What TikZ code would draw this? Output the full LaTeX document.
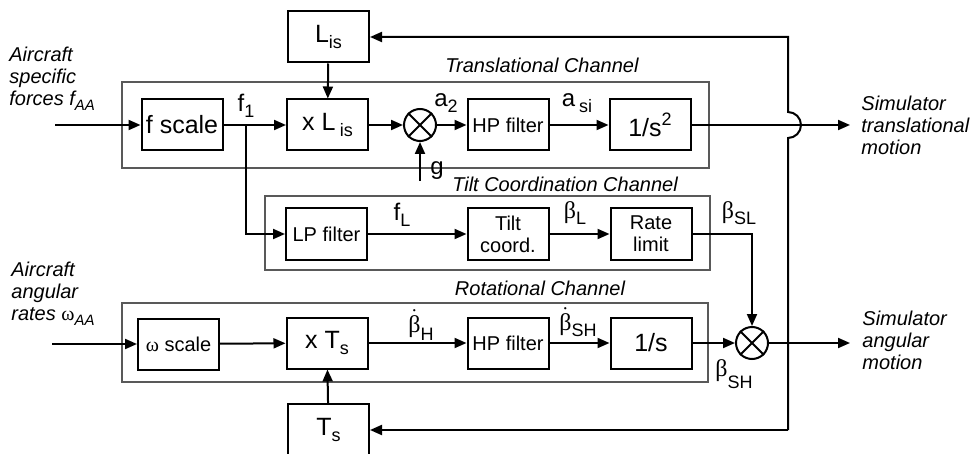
\documentclass[tikz,border=0pt]{standalone}
\usepackage{fontspec}
\setmainfont{Liberation Sans}
\newfontfamily\grk{Liberation Serif}
\usetikzlibrary{arrows.meta}
\newcommand\lsub[2][3pt]{\raisebox{-#1}{\fontsize{9}{9}\selectfont #2}}
\newcommand\lsup[1]{\raisebox{5.5pt}{\fontsize{9}{9}\selectfont #1}}
\newcommand\isub[1]{\raisebox{-2.5pt}{\fontsize{7.5}{7.5}\selectfont #1}}
\newcommand\dbeta{$\dot{\hbox{\grk β}}$}
\tikzset{
  blk/.style={draw, line width=1pt, inner sep=0pt, minimum width=40.5pt, minimum height=25.5pt,
    font=\fontsize{12.5}{13}\selectfont, align=center},
  smalltxt/.style={font=\fontsize{10}{11}\selectfont},
  chan/.style={draw=black!65, line width=0.7pt},
  arr/.style={line width=1pt, -{Triangle[length=6pt,width=5pt]}},
  ln/.style={line width=1pt},
  sumnode/.style={draw, circle, line width=1pt, minimum size=16pt, inner sep=0pt},
  lbl/.style={font=\fontsize{12}{13}\selectfont, inner sep=0pt},
  chlbl/.style={font=\itshape\fontsize{10}{11}\selectfont, inner sep=0pt},
  sidetxt/.style={font=\itshape\fontsize{10}{11}\selectfont, align=left, inner sep=0pt, anchor=west}
}
\begin{document}
\begin{tikzpicture}[x=0.5pt,y=-0.5pt]
\useasboundingbox (0,0) rectangle (973,454);
% channel frames
\draw[chan] (122,82) rectangle (709,168);
\draw[chan] (265,196) rectangle (710,270);
\draw[chan] (122,303) rectangle (708,382);
\node[chlbl] (ct) at (542,65) {Translational Channel};
\node[chlbl] (cc) at (565,184) {Tilt Coordination Channel};
\node[chlbl] (cr) at (540,288) {Rotational Channel};
% translational row
\node[blk] (fs) at (182,125) {f scale};
\node[blk] (xL) at (327.5,125) {x L\,\lsub{is}};
\node[blk] (Lis) at (328.5,37) {L\lsub{is}};
\node[sumnode] (s1) at (420,125) {};
\node[blk,smalltxt] (hp1) at (508,125) {HP filter};
\node[blk] (int2) at (650,125) {1/s\lsup{2}};
% tilt row
\node[blk,smalltxt] (lp) at (326.5,234) {LP filter};
\node[blk,smalltxt] (tc) at (508,234) {Tilt\\coord.};
\node[blk,smalltxt] (rl) at (651,234) {Rate\\limit};
% rotational row
\node[blk,smalltxt] (ws) at (178.5,344) {{\grk ω} scale};
\node[blk] (xT) at (327,343) {x T\lsub{s}};
\node[blk,smalltxt] (hp2) at (508,343) {HP filter};
\node[blk] (int1) at (651,343) {1/s};
\node[sumnode] (s2) at (752,343) {};
\node[blk, minimum height=26pt] (Ts) at (328.5,430) {T\lsub{s}};
% crosses
\draw[ln] (s1.north west) -- (s1.south east) (s1.north east) -- (s1.south west);
\draw[ln] (s2.north west) -- (s2.south east) (s2.north east) -- (s2.south west);
% coordinates
\coordinate (in1) at (55,125);
\coordinate (in2) at (52,344);
\coordinate (out1) at (850,125);
\coordinate (out2) at (850,343);
\coordinate (gin) at (420,181);
\coordinate (br) at (246,125);
\coordinate (fbb) at (788,430);
\coordinate (fbt) at (788,37);
\coordinate (hopb) at (788,138);
% connectors
\draw[arr] (in1) -- (fs.west);
\draw[arr] (fs) -- (xL);
\draw[arr] (Lis) -- (xL);
\draw[arr] (xL) -- (s1);
\draw[arr] (s1) -- (hp1);
\draw[arr] (hp1) -- (int2);
\draw[arr] (int2.east) -- (out1);
\draw[arr] (gin) -- (s1.south);
\draw[arr] (br) |- (lp.west);
\draw[arr] (lp) -- (tc);
\draw[arr] (tc) -- (rl);
\draw[arr] (rl.east) -| (s2.north);
\draw[arr] (in2) -- (ws.west);
\draw[arr] (ws) -- (xT);
\draw[arr] (Ts) -- (xT);
\draw[arr] (xT) -- (hp2);
\draw[arr] (hp2) -- (int1);
\draw[arr] (int1) -- (s2);
\draw[arr] (s2.east) -- (out2);
\draw[arr] (fbb) -- (hopb) arc[start angle=-90,end angle=90,radius=6.5pt] -- (fbt) -- (Lis.east);
\draw[arr] (fbb) -- (Ts.east);
% signal labels
\node[lbl] (lf1) at (246,106) {f\lsub{1}};
\node[lbl] (la2) at (446,103) {a\lsub{2}};
\node[lbl] (lasi) at (577,103) {a\,\lsub{si}};
\node[lbl] (lg) at (437,171) {g};
\node[lbl] (lfL) at (402,215) {f\lsub{L}};
\node[lbl] (lbL) at (575,213) {{\grk β}\lsub{L}};
\node[lbl] (lbSL) at (739,213) {{\grk β}\lsub{SL}};
\node[lbl] (lbH) at (421,325) {\dbeta\lsub[4pt]{H}};
\node[lbl] (lbSH) at (578,322) {\dbeta\lsub[3pt]{SH}};
\node[lbl] (lbSH2) at (734,374) {{\grk β}\lsub[6pt]{SH}};
% side texts
\node[sidetxt] (tin1) at (9,79) {Aircraft\\specific\\forces \textit{f}\isub{AA}};
\node[sidetxt] (tin2) at (11,294) {Aircraft\\angular\\rates {\grk\upshape ω}\isub{AA}};
\node[sidetxt] (to1) at (861,125) {Simulator\\translational\\motion};
\node[sidetxt] (to2) at (862,340) {Simulator\\angular\\motion};
\end{tikzpicture}
\end{document}
